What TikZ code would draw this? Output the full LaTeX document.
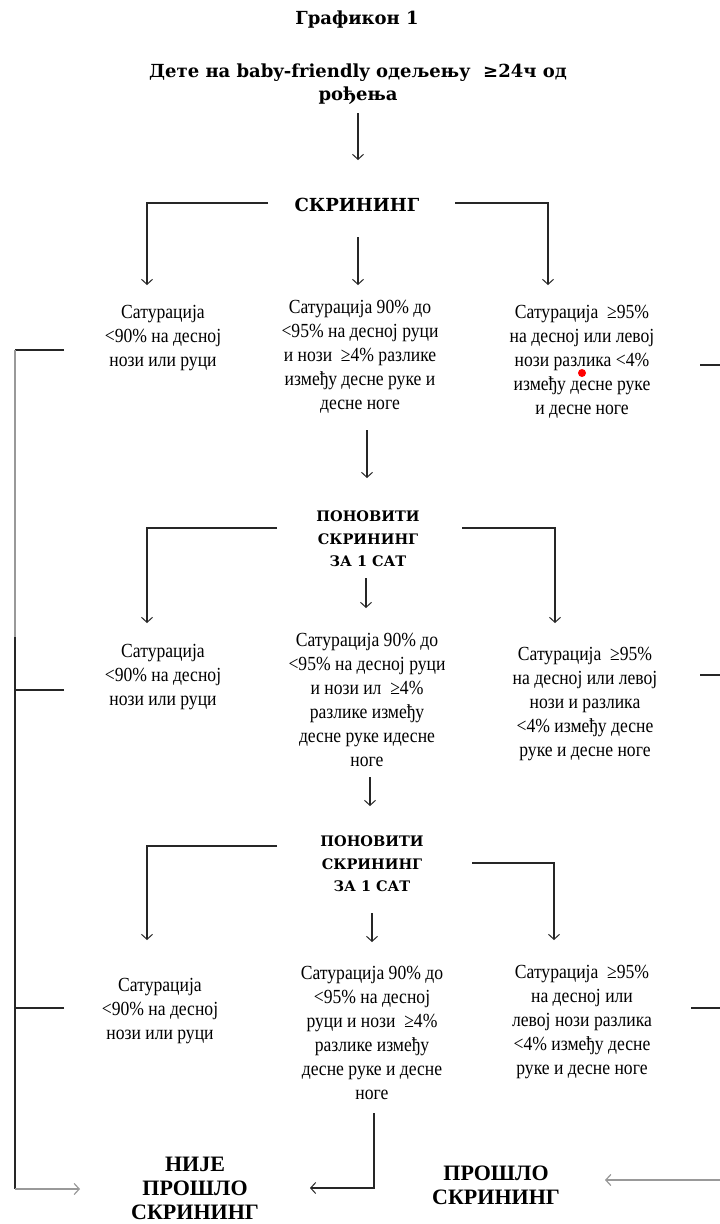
\documentclass[tikz,border=0pt]{standalone}
\usepackage{fontspec}
\setmainfont{Liberation Serif}
\newfontfamily\bodyf{Liberation Serif}[FakeStretch=0.88]
\newfontfamily\headf{DejaVu Serif}
\newfontfamily\boldf{Liberation Serif}
\usetikzlibrary{arrows.meta,calc}
\begin{document}
\begin{tikzpicture}[x=1pt,y=-1pt,
  line/.style={draw=black!85,line width=1.1pt},
  gline/.style={draw=black!40,line width=1.3pt},
  arr/.style={line,-{Straight Barb[length=5pt,width=11pt,line width=1pt]}},
  garr/.style={gline,-{Straight Barb[length=5pt,width=11pt,line width=1.2pt]}},
  body/.style={align=center,font=\bodyf\fontsize{20}{24}\selectfont,inner sep=0pt},
  head/.style={align=center,font=\headf\bfseries\fontsize{18}{23}\selectfont,inner sep=0pt},
  rep/.style={align=center,font=\headf\bfseries\fontsize{14.5}{22.5}\selectfont,inner sep=0pt},
  res/.style={align=center,font=\boldf\bfseries\fontsize{22}{24}\selectfont,inner sep=0pt}]
\fill[white] (0,0) rectangle (720,1224);
\useasboundingbox (0,0) rectangle (720,1224);

% headings
\node[head] (title) at (357,20) {Графикон 1};
\node[head] (child) at (358,84) {Дете на baby-friendly одељењу \ ≥24ч од\\рођења};
\node[head] (scr) at (357,205) {СКРИНИНГ};

% row 1
\node[body] (L1) at (163,338) {Сатурација\\<90\% на десној\\нози или руци};
\node[body] (M1) at (360,357) {Сатурација 90\% до\\<95\% на десној руци\\и нози \ ≥4\% разлике\\између десне руке и\\десне ноге};
\node[body] (R1) at (582,362) {Сатурација \ ≥95\%\\на десној или левој\\нози разлика <4\%\\између десне руке\\и десне ноге};

\node[rep] (rep1) at (368,539) {ПОНОВИТИ\\СКРИНИНГ\\ЗА 1 САТ};

% row 2
\node[body] (L2) at (163,677) {Сатурација\\<90\% на десној\\нози или руци};
\node[body] (M2) at (367,700) {Сатурација 90\% до\\<95\% на десној руци\\и нози ил \ ≥4\%\\разлике између\\десне руке идесне\\ноге};
\node[body] (R2) at (585,704) {Сатурација \ ≥95\%\\на десној или левој\\нози и разлика\\<4\% између десне\\руке и десне ноге};

\node[rep] (rep2) at (372,864) {ПОНОВИТИ\\СКРИНИНГ\\ЗА 1 САТ};

% row 3
\node[body] (L3) at (160,1011) {Сатурација\\<90\% на десној\\нози или руци};
\node[body] (M3) at (372,1033) {Сатурација 90\% до\\<95\% на десној\\руци и нози \ ≥4\%\\разлике између\\десне руке и десне\\ноге};
\node[body] (R3) at (582,1022) {Сатурација \ ≥95\%\\на десној или\\левој нози разлика\\<4\% између десне\\руке и десне ноге};

% results
\node[res] (fail) at (195,1188) {НИЈЕ\\ПРОШЛО\\СКРИНИНГ};
\node[res] (pass) at (496,1185) {ПРОШЛО\\СКРИНИНГ};

% coordinates at the edges
\coordinate (lvA) at (15,350);
\coordinate (lvB) at (15,637);
\coordinate (lvC) at (15,1189);
\coordinate (rEdge1) at (720,365);
\coordinate (rEdge2) at (720,675);
\coordinate (rEdge3) at (720,1008);
\coordinate (rEdge4) at (720,1180);

% top connectors
\draw[arr] ($(child.center)+(0,29)$) -- ($(scr.center)+(1,-45)$);
\draw[arr] ($(scr.center)+(-89,-2)$) -| ($(L1.center)+(-16,-53)$);
\draw[arr] ($(scr.center)+(98,-2)$) -| ($(R1.center)+(-34,-77)$);
\draw[arr] ($(scr.center)+(1,32)$) -- ($(M1.center)+(-2,-72)$);

% row 1 -> repeat 1
\draw[arr] ($(M1.center)+(7,73)$) -- ($(rep1.center)+(-1,-61)$);
\draw[arr] ($(rep1.center)+(-91,-11)$) -| ($(L2.center)+(-16,-54)$);
\draw[arr] ($(rep1.center)+(94,-11)$) -| ($(R2.center)+(-30,-81)$);
\draw[arr] ($(rep1.center)+(-2,39)$) -- ($(M2.center)+(-1,-92)$);

% row 2 -> repeat 2
\draw[arr] ($(M2.center)+(3,77)$) -- ($(rep2.center)+(-2,-58)$);
\draw[arr] ($(rep2.center)+(-95,-18)$) -| ($(L3.center)+(-13,-71)$);
\draw[arr] ($(rep2.center)+(100,-1)$) -| ($(R3.center)+(-28,-82)$);
\draw[arr] ($(rep2.center)+(0,49)$) -- ($(M3.center)+(0,-91)$);

% row 3 middle -> fail
\draw[arr] ($(M3.center)+(2,80)$) |- ($(fail.center)+(115,0)$);

% left collector
\draw[line] ($(L1.center)+(-99,12)$) -- (lvA);
\draw[gline] (lvA) -- (lvB);
\draw[line] (lvB) -- (lvC);
\draw[line] ($(L2.center)+(-99,13)$) -- ($(lvB |- L2.center)+(0,13)$);
\draw[line] ($(L3.center)+(-96,-3)$) -- ($(lvB |- L3.center)+(0,-3)$);
\draw[garr] (lvC) -- ($(fail.center)+(-115,1)$);

% right stubs
\draw[line] ($(R1.center)+(118,3)$) -- (rEdge1);
\draw[line] ($(R2.center)+(115,-29)$) -- (rEdge2);
\draw[line] ($(R3.center)+(109,-14)$) -- (rEdge3);
\draw[garr] (rEdge4) -- ($(pass.center)+(109,-5)$);

% stray red mark
\fill[red] (582,373) circle (4pt);
\end{tikzpicture}
\end{document}
